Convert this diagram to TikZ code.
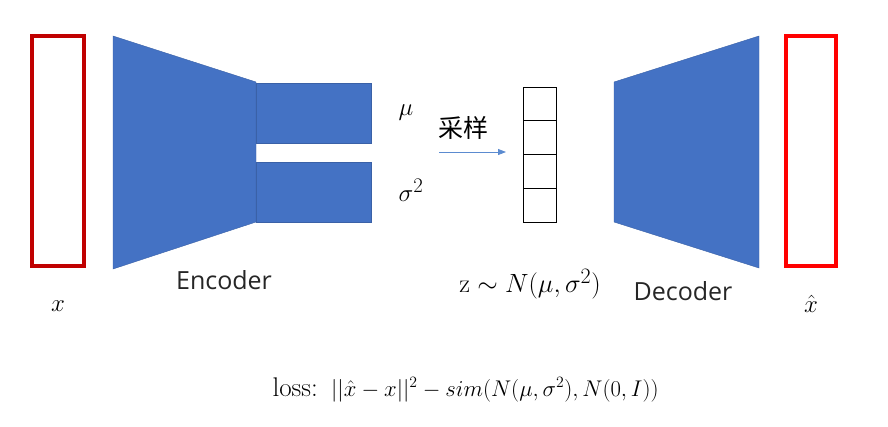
\documentclass[tikz,border=0pt]{standalone}
\usepackage{graphicx}
\usepackage{fontspec}
\setsansfont{Open Sans}
\newfontfamily\cjk{Noto Sans CJK SC}
\usetikzlibrary{arrows.meta}
\definecolor{encblue}{HTML}{4472C4}
\definecolor{arrowblue}{HTML}{5B8BD0}
\definecolor{inred}{HTML}{C00000}
\definecolor{outred}{HTML}{FF0000}
\begin{document}
\begin{tikzpicture}[x=1pt,y=-1pt,
  vecbox/.style={line width=4pt},
  block/.style={fill=encblue, draw=encblue!85!black, line width=0.4pt},
  cell/.style={draw=black, line width=0.6pt, fill=white},
  lbl/.style={font=\sffamily\fontsize{25}{28}\selectfont, text=black!85, inner sep=0pt},
  mlbl/.style={font=\fontsize{24.88}{30}\selectfont, inner sep=0pt}]
\useasboundingbox (0,0) rectangle (888,426);
% input and output vectors
\draw[vecbox, inred] (32,36) rectangle (84,266);
\draw[vecbox, outred] (786,36) rectangle (836,266);
% encoder
\draw[block] (113,36) -- (256,82) -- (256,222) -- (113,269) -- cycle;
\draw[block] (256,83) rectangle (371,143);
\draw[block] (256,162) rectangle (371,222);
% decoder
\draw[block] (614,82) -- (759,36) -- (759,268) -- (614,222) -- cycle;
% latent z
\foreach \i/\a/\b in {1/87/120.75, 2/120.75/154.5, 3/154.5/188.25, 4/188.25/222}
  \draw[cell] (523,\a) rectangle (556,\b);
\node[inner sep=0pt, minimum width=33pt, minimum height=135pt] (z) at (539.5,154.5) {};
% sampling arrow
\coordinate (s) at (439,152);
\coordinate (e) at (506,152);
\draw[arrowblue, line width=0.8pt, -{Triangle[length=8pt,width=6pt]}] (s) -- (e);
% labels
\node[font=\cjk\fontsize{25}{28}\selectfont, inner sep=0pt] (cy) at (463,128) {采样};
\node[mlbl] (mu) at (406,113) {$\mu$};
\node[mlbl] (sig) at (411,190) {$\sigma^2$};
\node[lbl] (enc) at (224,280) {Encoder};
\node[lbl] (dec) at (683,291) {Decoder};
\node[mlbl] (xin) at (58,306) {$x$};
\node[mlbl] (xout) at (811,304) {$\hat{x}$};
\node[mlbl] (zd) at (530,284) {\scalebox{1.06}{$\mathrm{z}\sim N(\mu,\sigma^2)$}};
\node[font=\fontsize{27}{30}\selectfont, inner sep=0pt, anchor=base east] (losslbl) at (318,396) {loss:};
\node[font=\fontsize{20.74}{26}\selectfont, inner sep=0pt, anchor=base west] (loss) at (331,396)
  {\scalebox{1.095}{$||\hat{x}-x||^2-sim(N(\mu,\sigma^2),N(0,I))$}};
\end{tikzpicture}
\end{document}
